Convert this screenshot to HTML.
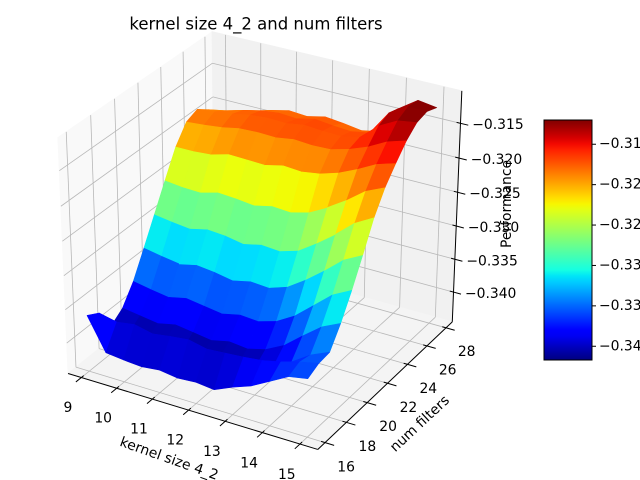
<!DOCTYPE html>
<html>
<head>
<meta charset="utf-8">
<style>
  html, body { margin: 0; padding: 0; background: #ffffff; }
  svg { display: block; font-family: "DejaVu Sans", "Liberation Sans", sans-serif; }
</style>
</head>
<body>
<svg id="chart" width="640" height="480" viewBox="0 0 640 480" xmlns="http://www.w3.org/2000/svg">
  <rect x="0" y="0" width="640" height="480" fill="#ffffff"/>
  <g id="panes"></g>
  <g id="grid"></g>
  <g id="axes"></g>
  <g id="surface"></g>
  <g id="ticklabels"></g>
  <text x="256" y="24" font-size="16.5" text-anchor="middle" dominant-baseline="central" fill="#000">kernel size 4_2 and num filters</text>
  <text x="0" y="0" font-size="13.9" text-anchor="middle" dominant-baseline="central" fill="#000" transform="translate(169,459) rotate(19.5)">kernel size 4_2</text>
  <text x="0" y="0" font-size="13.9" text-anchor="middle" dominant-baseline="central" fill="#000" transform="translate(420,424) rotate(-43)">num filters</text>
  <text x="0" y="0" font-size="13.9" text-anchor="middle" dominant-baseline="central" fill="#000" transform="translate(507,204) rotate(-90)">Performance</text>
  <defs>
    <linearGradient id="jetGrad" x1="0" y1="1" x2="0" y2="0"></linearGradient>
  </defs>
  <g id="colorbar"></g>
</svg>
<script>
// ---- data ----
const kernelSizes = [9, 9.5, 10, 10.5, 11, 11.5, 12, 12.5, 13, 13.5, 14, 14.5, 15];
const numFilters = [16, 17, 18, 19, 20, 21, 22, 23, 24, 25, 26, 27, 28];
const perfF16 = [-0.3362,-0.3410,-0.3413,-0.3415,-0.3412,-0.3416,-0.3414,-0.3417,-0.3405,-0.3395,-0.3380,-0.3365,-0.3360];
const perfF17 = [-0.3372,-0.3378,-0.3374,-0.3380,-0.3376,-0.3373,-0.3379,-0.3377,-0.3375,-0.3372,-0.3366,-0.3358,-0.3352];
const perfF18 = [-0.3405,-0.3409,-0.3412,-0.3407,-0.3410,-0.3414,-0.3409,-0.3412,-0.3406,-0.3396,-0.3380,-0.3362,-0.3350];
const perfF19 = [-0.3392,-0.3396,-0.3400,-0.3394,-0.3398,-0.3402,-0.3396,-0.3399,-0.3392,-0.3378,-0.3356,-0.3335,-0.3322];
const perfF20 = [-0.3365,-0.3370,-0.3374,-0.3368,-0.3372,-0.3376,-0.3370,-0.3372,-0.3364,-0.3348,-0.3325,-0.3302,-0.3288];
const perfF21 = [-0.3328,-0.3333,-0.3337,-0.3331,-0.3334,-0.3339,-0.3333,-0.3335,-0.3326,-0.3308,-0.3287,-0.3264,-0.3250];
const perfF22 = [-0.3290,-0.3294,-0.3297,-0.3291,-0.3293,-0.3298,-0.3292,-0.3294,-0.3286,-0.3268,-0.3248,-0.3225,-0.3210];
const perfF23 = [-0.3252,-0.3255,-0.3256,-0.3249,-0.3251,-0.3254,-0.3248,-0.3250,-0.3243,-0.3229,-0.3212,-0.3192,-0.3180];
const perfF24 = [-0.3215,-0.3215,-0.3213,-0.3206,-0.3207,-0.3208,-0.3202,-0.3204,-0.3200,-0.3192,-0.3180,-0.3166,-0.3158];
const perfF25 = [-0.3190,-0.3188,-0.3185,-0.3180,-0.3179,-0.3180,-0.3176,-0.3178,-0.3177,-0.3170,-0.3160,-0.3146,-0.3138];
const perfF26 = [-0.3183,-0.3180,-0.3177,-0.3172,-0.3170,-0.3171,-0.3167,-0.3169,-0.3170,-0.3165,-0.3142,-0.3128,-0.3124];
const perfF27 = [-0.3195,-0.3190,-0.3183,-0.3177,-0.3174,-0.3176,-0.3170,-0.3173,-0.3175,-0.3170,-0.3135,-0.3120,-0.3120];
const perfF28 = [-0.3212,-0.3205,-0.3196,-0.3188,-0.3182,-0.3184,-0.3178,-0.3181,-0.3185,-0.3180,-0.3140,-0.3122,-0.3126];
const performance = [perfF16, perfF17, perfF18, perfF19, perfF20, perfF21, perfF22, perfF23, perfF24, perfF25, perfF26, perfF27, perfF28];
const xTicks = [9, 10, 11, 12, 13, 14, 15];
const xTickLabels = ['9', '10', '11', '12', '13', '14', '15'];
const yTicks = [16, 18, 20, 22, 24, 26, 28];
const yTickLabels = ['16', '18', '20', '22', '24', '26', '28'];
const zTicks = [-0.340, -0.335, -0.330, -0.325, -0.320, -0.315];
const zTickLabels = ['\u22120.340', '\u22120.335', '\u22120.330', '\u22120.325', '\u22120.320', '\u22120.315'];
const cbarTicks = [-0.340, -0.335, -0.330, -0.325, -0.320, -0.315];
const cbarTickLabels = ['\u22120.340', '\u22120.335', '\u22120.330', '\u22120.325', '\u22120.320', '\u22120.315'];

// ---- axis limits (view box) ----
const XLIM = [8.62, 15.47];
const YLIM = [15.33, 28.67];
const ZLIM = [-0.3446, -0.3104];

const NS = 'http://www.w3.org/2000/svg';
function mk(tag, attrs, parent) {
  const el = document.createElementNS(NS, tag);
  for (const k in attrs) el.setAttribute(k, attrs[k]);
  parent.appendChild(el);
  return el;
}

// ---- projection (matplotlib-like, elev 30, azim -60, dist 10) ----
const el = 30 * Math.PI / 180, az = -60 * Math.PI / 180, dist = 10;
const N = [Math.cos(el) * Math.cos(az), Math.cos(el) * Math.sin(az), Math.sin(el)];
const E = [0.5 + dist * N[0], 0.5 + dist * N[1], 0.5 + dist * N[2]];
let U = [-N[1], N[0], 0];
const ul = Math.hypot(U[0], U[1], U[2]); U = U.map(c => c / ul);
const V = [N[1] * U[2] - N[2] * U[1], N[2] * U[0] - N[0] * U[2], N[0] * U[1] - N[1] * U[0]];
function dot(a, b) { return a[0] * b[0] + a[1] * b[1] + a[2] * b[2]; }
function rawProj(u, v, w) {
  const d = [u - E[0], v - E[1], w - E[2]];
  const ez = dot(N, d);
  return [dot(U, d) / -ez, dot(V, d) / -ez, ez];
}
const cornerFit = [
  [[0, 0, 0], [68, 373]], [[1, 0, 0], [318, 450]], [[1, 1, 0], [452, 322]],
  [[1, 1, 1], [462, 90]], [[0, 1, 1], [212, 33]], [[0, 0, 1], [58, 137]]
];
function fit1(ps, ss) {
  const n = ps.length;
  const mp = ps.reduce((a, b) => a + b, 0) / n, ms = ss.reduce((a, b) => a + b, 0) / n;
  let c = 0, vv = 0;
  for (let i = 0; i < n; i++) { c += (ps[i] - mp) * (ss[i] - ms); vv += (ps[i] - mp) ** 2; }
  const s = c / vv; return [s, ms - s * mp];
}
const projected = cornerFit.map(c => rawProj(c[0][0], c[0][1], c[0][2]));
const fx = fit1(projected.map(p => p[0]), cornerFit.map(c => c[1][0]));
const fy = fit1(projected.map(p => p[1]), cornerFit.map(c => c[1][1]));
function P(x, y, z) {
  const u = (x - XLIM[0]) / (XLIM[1] - XLIM[0]);
  const v = (y - YLIM[0]) / (YLIM[1] - YLIM[0]);
  const w = (z - ZLIM[0]) / (ZLIM[1] - ZLIM[0]);
  const r = rawProj(u, v, w);
  return [fx[1] + fx[0] * r[0], fy[1] + fy[0] * r[1], r[2]];
}
function pts(list) { return list.map(p => p[0].toFixed(2) + ',' + p[1].toFixed(2)).join(' '); }

// ---- colormap (matplotlib jet segments) ----
function seg(t, s) {
  for (let i = 0; i < s.length - 1; i++) {
    if (t <= s[i + 1][0]) { const f = (t - s[i][0]) / (s[i + 1][0] - s[i][0]); return s[i][1] + f * (s[i + 1][1] - s[i][1]); }
  }
  return s[s.length - 1][1];
}
const jetR = [[0, 0], [0.35, 0], [0.66, 1], [0.89, 1], [1, 0.5]];
const jetG = [[0, 0], [0.125, 0], [0.375, 1], [0.64, 1], [0.91, 0], [1, 0]];
const jetB = [[0, 0.5], [0.11, 1], [0.34, 1], [0.65, 0], [1, 0]];
function jet(t) {
  t = Math.max(0, Math.min(1, t));
  return 'rgb(' + Math.round(seg(t, jetR) * 255) + ',' + Math.round(seg(t, jetG) * 255) + ',' + Math.round(seg(t, jetB) * 255) + ')';
}
let vmin = Infinity, vmax = -Infinity;
performance.forEach(row => row.forEach(v => { vmin = Math.min(vmin, v); vmax = Math.max(vmax, v); }));

// ---- panes ----
const panes = document.getElementById('panes');
const [x0, x1] = XLIM, [y0, y1] = YLIM, [z0, z1] = ZLIM;
const leftPane = mk('polygon', { points: pts([P(x0, y0, z0), P(x0, y1, z0), P(x0, y1, z1), P(x0, y0, z1)]), fill: '#f9f9f9', stroke: '#f9f9f9' }, panes);


const backPane = mk('polygon', { points: pts([P(x0, y1, z0), P(x1, y1, z0), P(x1, y1, z1), P(x0, y1, z1)]), fill: '#f1f1f1', stroke: '#f1f1f1' }, panes);


const floorPane = mk('polygon', { points: pts([P(x0, y0, z0), P(x1, y0, z0), P(x1, y1, z0), P(x0, y1, z0)]), fill: '#f4f4f4', stroke: '#f4f4f4' }, panes);



// ---- grid ----
const grid = document.getElementById('grid');
function gline(a, b, name) {
  const l = mk('line', { x1: a[0], y1: a[1], x2: b[0], y2: b[1], stroke: '#b8b8b8', 'stroke-width': 0.8 }, grid);
  
  
}
xTicks.forEach(x => { gline(P(x, y0, z0), P(x, y1, z0), 'x-grid-floor'); gline(P(x, y1, z0), P(x, y1, z1), 'x-grid-back'); });
yTicks.forEach(y => { gline(P(x0, y, z0), P(x1, y, z0), 'y-grid-floor'); gline(P(x0, y, z0), P(x0, y, z1), 'y-grid-left'); });
zTicks.forEach(z => { gline(P(x0, y0, z), P(x0, y1, z), 'z-grid-left'); gline(P(x0, y1, z), P(x1, y1, z), 'z-grid-back'); });

// ---- axis lines & ticks ----
const axes = document.getElementById('axes');
function aline(a, b, name) {
  const l = mk('line', { x1: a[0], y1: a[1], x2: b[0], y2: b[1], stroke: '#000', 'stroke-width': 1 }, axes);
  
  
}
aline(P(x0, y0, z0), P(x1, y0, z0), 'x-axis-line');
aline(P(x1, y0, z0), P(x1, y1, z0), 'y-axis-line');
aline(P(x1, y1, z0), P(x1, y1, z1), 'z-axis-line');
const dy = (y1 - y0), dx = (x1 - x0);
xTicks.forEach(x => aline(P(x, y0 + 0.015 * dy, z0), P(x, y0 - 0.035 * dy, z0), 'x-tick'));
yTicks.forEach(y => aline(P(x1 - 0.015 * dx, y, z0), P(x1 + 0.035 * dx, y, z0), 'y-tick'));
zTicks.forEach(z => aline(P(x1 - 0.015 * dx, y1, z), P(x1 + 0.03 * dx, y1, z), 'z-tick'));

// ---- surface ----
const surf = document.getElementById('surface');
const cells = [];
for (let i = 0; i < numFilters.length - 1; i++) {
  for (let j = 0; j < kernelSizes.length - 1; j++) {
    const c = [
      [kernelSizes[j], numFilters[i], performance[i][j]],
      [kernelSizes[j + 1], numFilters[i], performance[i][j + 1]],
      [kernelSizes[j + 1], numFilters[i + 1], performance[i + 1][j + 1]],
      [kernelSizes[j], numFilters[i + 1], performance[i + 1][j]]
    ];
    const pp = c.map(q => P(q[0], q[1], q[2]));
    const zavg = (c[0][2] + c[1][2] + c[2][2] + c[3][2]) / 4;
    const depth = (pp[0][2] + pp[1][2] + pp[2][2] + pp[3][2]) / 4;
    cells.push({ pp, zavg, depth });
  }
}
cells.sort((a, b) => a.depth - b.depth);
cells.forEach(cell => {
  const col = jet((cell.zavg - vmin) / (vmax - vmin));
  const poly = mk('polygon', { points: pts(cell.pp), fill: col, stroke: col, 'stroke-width': 0.6, 'stroke-linejoin': 'round' }, surf);
  
  
});

// ---- tick labels ----
const tl = document.getElementById('ticklabels');
function label(txt, x, y, anchor, name) {
  const t = mk('text', { x: x, y: y, 'font-size': 13.9, 'text-anchor': anchor, 'dominant-baseline': 'central', fill: '#000' }, tl);
  t.textContent = txt;
  
  
}
xTicks.forEach((x, k) => { const p = P(x, y0 - 0.035 * dy, z0); label(xTickLabels[k], p[0] - 8, p[1] + 26, 'middle', 'x-tick-label'); });
yTicks.forEach((y, k) => { const p = P(x1 + 0.035 * dx, y, z0); label(yTickLabels[k], p[0] + 12, p[1] + 22, 'middle', 'y-tick-label'); });
zTicks.forEach((z, k) => { const p = P(x1 + 0.03 * dx, y1, z); label(zTickLabels[k], p[0] + 4, p[1], 'start', 'z-tick-label'); });

// ---- colorbar ----
const grad = document.getElementById('jetGrad');
for (let k = 0; k <= 40; k++) {
  mk('stop', { offset: (k / 40), 'stop-color': jet(k / 40) }, grad);
}
const cb = document.getElementById('colorbar');
const CB = { x: 544, y: 120, w: 48, h: 240 };
function cbY(v) { return CB.y + CB.h - (v - vmin) / (vmax - vmin) * CB.h; }
const cbRect = mk('rect', { x: CB.x, y: CB.y, width: CB.w, height: CB.h, fill: 'url(#jetGrad)', stroke: '#000', 'stroke-width': 1 }, cb);


cbarTicks.forEach((v, k) => {
  const yy = cbY(v);
  const tk = mk('line', { x1: CB.x + CB.w, y1: yy, x2: CB.x + CB.w + 4, y2: yy, stroke: '#000', 'stroke-width': 1 }, cb);
  
  
  const t = mk('text', { x: CB.x + CB.w + 7, y: yy, 'font-size': 13.9, 'dominant-baseline': 'central', fill: '#000' }, cb);
  t.textContent = cbarTickLabels[k];
  
  
});
</script>
</body>
</html>
